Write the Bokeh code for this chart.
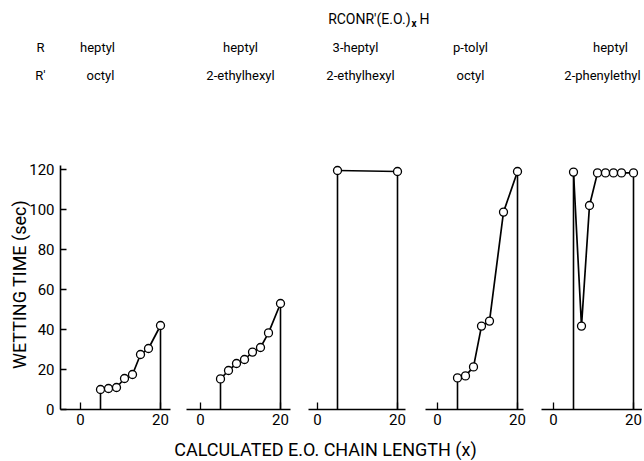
from bokeh.plotting import figure
from bokeh.layouts import column, row
from bokeh.models import Range1d, FixedTicker
from bokeh.core.properties import value
from bokeh.embed import file_html
from bokeh.resources import INLINE

FONT = "Roboto"

# ---------------- data ----------------
title_main = "RCONR'(E.O.)"
title_sub = "x"
title_end = "H"
row_names = ["R", "R'"]
r_groups = ["heptyl", "heptyl", "3-heptyl", "p-tolyl", "heptyl"]
rp_groups = ["octyl", "2-ethylhexyl", "2-ethylhexyl", "octyl", "2-phenylethyl"]

x_ticks = [0, 20]
y_ticks = [0, 20, 40, 60, 80, 100, 120]
y_title = "WETTING TIME (sec)"
x_title = "CALCULATED E.O. CHAIN LENGTH (x)"

x_p1 = [5, 7, 9, 11, 13, 15, 17, 20]
y_p1 = [10, 10.5, 11, 15.5, 17.5, 27.5, 30.5, 42]

x_p2 = [5, 7, 9, 11, 13, 15, 17, 20]
y_p2 = [15.3, 19.5, 23, 25, 28.7, 31, 38.3, 53]

x_p3 = [5, 20]
y_p3 = [119.5, 119]

x_p4 = [5, 7, 9, 11, 13, 16.5, 20]
y_p4 = [15.8, 16.8, 21.3, 41.7, 44.2, 98.7, 119]

x_p5 = [5, 7, 9, 11, 13, 15, 17, 20]
y_p5 = [118.7, 41.7, 102, 118.3, 118.3, 118.3, 118.3, 118.3]

series = [(x_p1, y_p1), (x_p2, y_p2), (x_p3, y_p3), (x_p4, y_p4), (x_p5, y_p5)]

# ---------------- layout ----------------
PX_PER_UNIT = 4.0
frame_w = [118, 119, 119, 118, 108]
x_start = [-5, -5.5, -5, -5.25, -4.75]
axis_bounds = [(-5, 22.5), (-3.4, 22.5), (-2.2, 22), (-3, 21.6), (-3, 22.25)]
PANEL_H = 282
LEFT_BORDER = 60
TEXT = dict(text_font=value(FONT), text_color="black", text_baseline="middle")


def make_panel(i):
    xs, ys = series[i]
    first = i == 0
    w = frame_w[i] + (LEFT_BORDER if first else 0)
    p = figure(width=w, height=PANEL_H,
               x_range=Range1d(x_start[i], x_start[i] + frame_w[i] / PX_PER_UNIT),
               y_range=Range1d(0, 125),
               output_backend="svg", toolbar_location=None,
               y_axis_location="left" if first else None,
               min_border_left=LEFT_BORDER if first else 0,
               min_border_right=0, min_border_top=9, min_border_bottom=23)
    p.outline_line_color = None
    p.grid.visible = False

    xa = p.xaxis[0]
    xa.ticker = FixedTicker(ticks=x_ticks)
    xa.bounds = axis_bounds[i]
    xa.major_tick_in = 7
    xa.major_tick_out = 0
    xa.minor_tick_line_color = None
    xa.axis_line_width = 1.6
    xa.major_tick_line_width = 1.3
    xa.major_label_text_font = FONT
    xa.major_label_text_font_size = "15px"
    xa.major_label_text_color = "black"
    xa.major_label_standoff = 4

    if first:
        ya = p.yaxis[0]
        ya.ticker = FixedTicker(ticks=y_ticks)
        ya.bounds = (0, 122)
        ya.major_tick_in = 6
        ya.major_tick_out = 0
        ya.minor_tick_line_color = None
        ya.axis_line_width = 1.6
        ya.major_tick_line_width = 1.3
        ya.major_label_text_font = FONT
        ya.major_label_text_font_size = "15px"
        ya.major_label_text_color = "black"
        ya.major_label_standoff = 6
        ya.axis_label = y_title
        ya.axis_label_text_font = FONT
        ya.axis_label_text_font_style = "normal"
        ya.axis_label_text_font_size = "18px"
        ya.axis_label_text_color = "black"
        ya.axis_label_standoff = -4

    # vertical drop lines at first and last composition
    p.segment(x0=[xs[0], xs[-1]], y0=[0, 0], x1=[xs[0], xs[-1]], y1=[ys[0], ys[-1]],
              line_color="black", line_width=1.6)
    p.line(xs, ys, line_color="black", line_width=1.7)
    p.scatter(xs, ys, size=8, fill_color="white", line_color="black", line_width=1.3)
    return p


panels = [make_panel(i) for i in range(5)]

# ---------------- header ----------------
TOTAL_W = sum(frame_w) + LEFT_BORDER
HEADER_H = 150
header = figure(width=TOTAL_W, height=HEADER_H, x_range=Range1d(0, TOTAL_W),
                y_range=Range1d(HEADER_H, 0), output_backend="svg", toolbar_location=None,
                x_axis_location=None, y_axis_location=None, min_border=0)
header.outline_line_color = None
header.grid.visible = False

header.text(x=[410], y=[18], text=[title_main], text_font_size="14px", text_align="right", **TEXT)
header.text(x=[411], y=[23], text=[title_sub], text_font_size="10px", text_align="left",
            text_font_style="bold", **TEXT)
header.text(x=[419], y=[18], text=[title_end], text_font_size="14px", text_align="left", **TEXT)

label_x_r = [97, 240, 355, 470, 610]
label_x_rp = [100, 240, 360, 470, 602]
header.text(x=[40, 40], y=[47, 75], text=row_names, text_font_size="13px", text_align="center", **TEXT)
header.text(x=label_x_r, y=[47] * 5, text=r_groups, text_font_size="13px", text_align="center", **TEXT)
header.text(x=label_x_rp, y=[75] * 5, text=rp_groups, text_font_size="13px", text_align="center", **TEXT)

# ---------------- footer ----------------
FOOTER_H = 28
footer = figure(width=TOTAL_W, height=FOOTER_H, x_range=Range1d(0, TOTAL_W),
                y_range=Range1d(FOOTER_H, 0), output_backend="svg", toolbar_location=None,
                x_axis_location=None, y_axis_location=None, min_border=0)
footer.outline_line_color = None
footer.grid.visible = False
footer.text(x=[325], y=[17], text=[x_title], text_font_size="18px", text_align="center", **TEXT)

layout = column(header, row(*panels, spacing=0), footer, spacing=0)

open("out.html", "w").write(file_html(layout, INLINE))
